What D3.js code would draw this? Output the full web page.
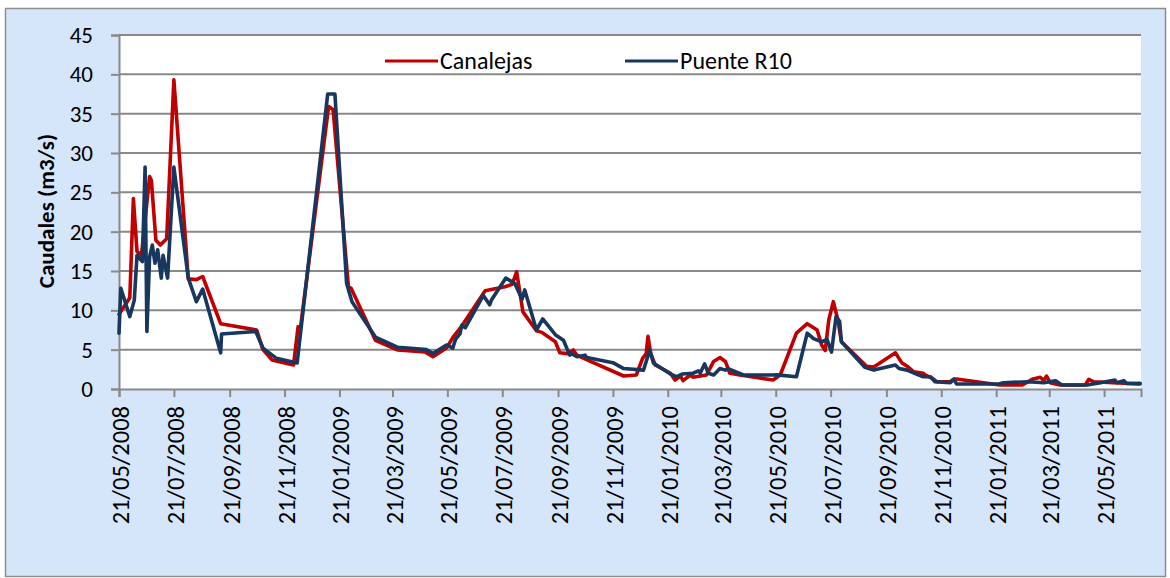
<!DOCTYPE html>
<html>
<head>
<meta charset="utf-8">
<script src="https://cdn.jsdelivr.net/npm/d3@7"></script>
<style>
  html, body { margin: 0; padding: 0; background: #ffffff; }
  svg { display: block; }
  text { font-family: Carlito, Lato, "Open Sans", sans-serif; fill: #000; }
</style>
</head>
<body>
<svg id="chart" width="1170" height="578"></svg>
<script>
// ---- data ----
const seriesNames = ["Canalejas", "Puente R10"];
const seriesColors = ["#C00000", "#17375E"];

const canalejasDates = ["2008-05-21","2008-06-02","2008-06-06","2008-06-10","2008-06-15","2008-06-24","2008-06-26","2008-07-01","2008-07-06","2008-07-13","2008-07-21","2008-08-06","2008-08-15","2008-08-22","2008-09-11","2008-10-21","2008-10-28","2008-11-07","2008-12-01","2008-12-06","2008-12-09","2009-01-09","2009-01-14","2009-01-31","2009-02-03","2009-03-02","2009-03-27","2009-04-26","2009-05-05","2009-05-20","2009-05-28","2009-06-06","2009-07-02","2009-07-24","2009-08-01","2009-08-06","2009-08-13","2009-08-28","2009-09-03","2009-09-18","2009-09-23","2009-10-01","2009-10-08","2009-10-12","2009-10-27","2009-12-03","2009-12-17","2009-12-24","2009-12-28","2009-12-30","2010-01-02","2010-01-07","2010-01-24","2010-01-29","2010-02-04","2010-02-07","2010-02-15","2010-02-18","2010-03-05","2010-03-13","2010-03-20","2010-03-26","2010-03-31","2010-04-11","2010-05-18","2010-05-26","2010-06-13","2010-06-25","2010-07-06","2010-07-11","2010-07-15","2010-07-19","2010-07-24","2010-07-29","2010-08-02","2010-08-30","2010-09-07","2010-10-01","2010-10-08","2010-10-14","2010-10-21","2010-11-01","2010-11-03","2010-11-11","2010-11-16","2010-12-01","2010-12-05","2010-12-08","2011-01-25","2011-02-19","2011-03-02","2011-03-11","2011-03-15","2011-03-18","2011-03-22","2011-04-02","2011-04-30","2011-05-04","2011-05-09","2011-05-31","2011-06-30"];
const canalejasValues = [9.5,11.6,24.2,17.5,17.0,27.0,26.5,18.9,18.3,19.1,39.3,14.0,13.9,14.3,8.3,7.5,5.0,3.7,3.05,7.9,8.0,35.9,35.5,13.0,12.8,6.2,4.96,4.7,4.1,5.2,6.7,8.0,12.5,13.0,13.3,14.9,9.8,7.4,7.2,6.0,4.6,4.5,4.96,4.3,3.5,1.65,1.78,3.9,4.5,6.7,4.5,3.05,2.0,1.14,1.65,1.06,1.78,1.5,1.78,3.5,4.0,3.5,2.0,1.78,1.14,1.78,7.1,8.3,7.5,5.6,4.9,8.8,11.1,8.8,6.0,2.9,2.8,4.6,3.35,2.9,2.2,2.0,1.8,1.36,0.93,0.93,1.27,1.27,0.5,0.5,1.23,1.48,1.1,1.65,0.8,0.5,0.5,1.23,0.93,0.8,0.64];

const puenteDates = ["2008-05-21","2008-05-23","2008-06-02","2008-06-07","2008-06-10","2008-06-16","2008-06-19","2008-06-21","2008-06-24","2008-06-27","2008-06-30","2008-07-03","2008-07-07","2008-07-09","2008-07-14","2008-07-21","2008-08-06","2008-08-15","2008-08-22","2008-09-11","2008-09-12","2008-10-20","2008-10-28","2008-11-12","2008-12-05","2009-01-08","2009-01-16","2009-01-29","2009-02-04","2009-03-02","2009-03-27","2009-04-28","2009-05-05","2009-05-20","2009-05-27","2009-05-30","2009-06-04","2009-06-06","2009-06-10","2009-06-30","2009-07-07","2009-07-09","2009-07-25","2009-08-04","2009-08-12","2009-08-15","2009-08-28","2009-09-04","2009-09-18","2009-09-27","2009-10-04","2009-10-06","2009-10-12","2009-10-21","2009-10-23","2009-11-21","2009-12-03","2009-12-25","2010-01-01","2010-01-05","2010-01-24","2010-01-31","2010-02-06","2010-02-18","2010-02-24","2010-02-26","2010-03-03","2010-03-07","2010-03-13","2010-03-20","2010-03-26","2010-03-29","2010-04-15","2010-05-17","2010-05-22","2010-06-13","2010-06-25","2010-07-02","2010-07-11","2010-07-17","2010-07-22","2010-07-27","2010-07-31","2010-08-02","2010-08-28","2010-09-07","2010-10-01","2010-10-05","2010-10-14","2010-10-25","2010-11-01","2010-11-09","2010-11-14","2010-12-01","2010-12-05","2010-12-08","2011-01-24","2011-01-29","2011-02-26","2011-03-15","2011-03-28","2011-04-04","2011-05-02","2011-05-17","2011-06-02","2011-06-04","2011-06-12","2011-06-15","2011-06-30"];
const puenteValues = [7.1,12.8,9.2,11.3,17.0,16.2,28.2,7.3,16.8,18.3,16.0,17.7,14.1,17.0,14.1,28.2,14.1,11.1,12.7,4.6,7.0,7.3,5.2,3.9,3.3,37.5,37.5,13.4,11.1,6.6,5.3,5.0,4.5,5.6,5.2,6.3,7.0,8.1,7.8,11.9,10.7,11.3,14.1,13.4,11.4,12.6,7.5,8.9,6.9,6.2,4.3,4.5,4.1,4.3,4.0,3.35,2.6,2.4,4.96,3.3,1.9,1.56,1.9,2.0,2.3,2.0,3.2,2.0,1.78,2.6,2.4,2.6,1.78,1.78,1.8,1.56,7.1,6.4,6.0,6.3,4.7,9.2,8.6,6.0,2.75,2.4,3.05,2.6,2.4,1.86,1.56,1.56,0.93,0.8,1.23,0.64,0.64,0.8,0.93,0.8,1.06,0.5,0.5,0.8,1.14,0.8,1.06,0.7,0.72];

const xTickDates = ["2008-05-21","2008-07-21","2008-09-21","2008-11-21","2009-01-21","2009-03-21","2009-05-21","2009-07-21","2009-09-21","2009-11-21","2010-01-21","2010-03-21","2010-05-21","2010-07-21","2010-09-21","2010-11-21","2011-01-21","2011-03-21","2011-05-21"];
const yTicks = [0,5,10,15,20,25,30,35,40,45];
const xDomain = ["2008-05-21","2011-07-01"];
const yLabel = "Caudales (m3/s)";

// ---- drawing ----
const parse = d3.timeParse("%Y-%m-%d");
const fmt = d3.timeFormat("%d/%m/%Y");
const svg = d3.select("#chart");
const fontFam = "Carlito, Lato, 'Open Sans', sans-serif";

const plot = {left: 119, right: 1141, top: 35, bottom: 389};
const gridColor = "#898989";

// chart background
svg.append("rect").attr("x", 5.5).attr("y", 8.5).attr("width", 1160).attr("height", 568)
  .attr("fill", "#D5E6FA").attr("stroke", "#8E8E8E").attr("stroke-width", 1.5);
// plot area
svg.append("rect").attr("x", plot.left).attr("y", plot.top)
  .attr("width", plot.right - plot.left).attr("height", plot.bottom - plot.top)
  .attr("fill", "#ffffff");

const x = d3.scaleTime().domain(xDomain.map(parse)).range([plot.left, plot.right]);
const y = d3.scaleLinear().domain([0, 45]).range([plot.bottom, plot.top]);

// gridlines
svg.append("g").selectAll("line").data(yTicks.filter(v => v > 0)).join("line")
  .attr("x1", plot.left).attr("x2", plot.right)
  .attr("y1", d => y(d)).attr("y2", d => y(d))
  .attr("stroke", gridColor).attr("stroke-width", 2);

// y axis
const yAxis = svg.append("g").attr("transform", `translate(${plot.left},0)`)
  .call(d3.axisLeft(y).tickValues(yTicks).tickSize(8).tickPadding(18).tickFormat(d3.format("d")));
yAxis.select(".domain").attr("stroke", gridColor).attr("stroke-width", 2);
yAxis.selectAll(".tick line").attr("stroke", gridColor).attr("stroke-width", 2);
yAxis.selectAll(".tick text").attr("font-size", 23).attr("fill", "#000")
  .style("font-family", fontFam);

// x axis
const xAxis = svg.append("g").attr("transform", `translate(0,${plot.bottom})`)
  .call(d3.axisBottom(x).tickValues(xTickDates.map(parse)).tickSize(8).tickFormat(fmt));
xAxis.select(".domain").attr("stroke", gridColor).attr("stroke-width", 2);
xAxis.selectAll(".tick line").attr("stroke", gridColor).attr("stroke-width", 2);
xAxis.selectAll(".tick text")
  .attr("font-size", 24.5).attr("fill", "#000")
  .style("font-family", fontFam)
  .attr("text-anchor", "end")
  .attr("dy", "0.35em")
  .attr("transform", "translate(1,17) rotate(-90)")
  .attr("x", 0).attr("y", 0);

// y label
svg.append("text")
  .attr("transform", "translate(46,211) rotate(-90)")
  .attr("text-anchor", "middle").attr("dy", "0.35em")
  .attr("font-size", 23).attr("font-weight", "bold")
  .text(yLabel);

// series
const series = [
  canalejasDates.map((d, i) => ({date: parse(d), value: canalejasValues[i]})),
  puenteDates.map((d, i) => ({date: parse(d), value: puenteValues[i]}))
];
const line = d3.line().x(d => x(d.date)).y(d => y(d.value));
series.forEach((s, i) => {
  svg.append("path").datum(s)
    .attr("d", line)
    .attr("fill", "none")
    .attr("stroke", seriesColors[i])
    .attr("stroke-width", 3.6)
    .attr("stroke-linejoin", "round")
    .attr("stroke-linecap", "round");
});

// legend
const legendX = [385, 625];
seriesNames.forEach((name, i) => {
  const g = svg.append("g").attr("transform", `translate(${legendX[i]},61)`);
  g.append("line").attr("x1", 0).attr("x2", 53).attr("y1", 0).attr("y2", 0)
    .attr("stroke", seriesColors[i]).attr("stroke-width", 3.2);
  g.append("text").attr("x", 55).attr("dy", "0.35em").attr("font-size", 24).text(name);
});
</script>
</body>
</html>
